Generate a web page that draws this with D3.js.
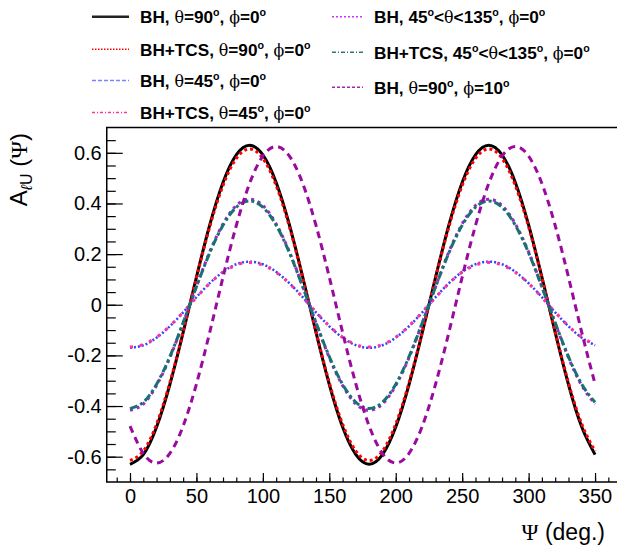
<!DOCTYPE html>
<html>
<head>
<meta charset="utf-8">
<script src="https://cdn.jsdelivr.net/npm/d3@7"></script>
<style>
body { margin: 0; background: #fff; }
text { font-family: "Liberation Sans", Arial, sans-serif; }
</style>
</head>
<body>
<script>
var psi = [0, 10, 20, 30, 40, 50, 60, 70, 80, 90, 100, 110, 120, 130, 140, 150, 160, 170,
  180, 190, 200, 210, 220, 230, 240, 250, 260, 270, 280, 290, 300, 310, 320, 330, 340, 350];

var bhT90 = [-0.63, -0.592, -0.483, -0.315, -0.109, 0.109, 0.315, 0.483, 0.592, 0.63, 0.592, 0.483, 0.315, 0.109, -0.109, -0.315, -0.483, -0.592,
  -0.63, -0.592, -0.483, -0.315, -0.109, 0.109, 0.315, 0.483, 0.592, 0.63, 0.592, 0.483, 0.315, 0.109, -0.109, -0.315, -0.483, -0.592];
var tcsT90 = [-0.615, -0.578, -0.471, -0.308, -0.107, 0.107, 0.308, 0.471, 0.578, 0.615, 0.578, 0.471, 0.308, 0.107, -0.107, -0.308, -0.471, -0.578,
  -0.615, -0.578, -0.471, -0.308, -0.107, 0.107, 0.308, 0.471, 0.578, 0.615, 0.578, 0.471, 0.308, 0.107, -0.107, -0.308, -0.471, -0.578];
var bhT45 = [-0.17, -0.16, -0.13, -0.085, -0.03, 0.03, 0.085, 0.13, 0.16, 0.17, 0.16, 0.13, 0.085, 0.03, -0.03, -0.085, -0.13, -0.16,
  -0.17, -0.16, -0.13, -0.085, -0.03, 0.03, 0.085, 0.13, 0.16, 0.17, 0.16, 0.13, 0.085, 0.03, -0.03, -0.085, -0.13, -0.16];
var tcsT45 = [-0.167, -0.157, -0.128, -0.084, -0.029, 0.029, 0.084, 0.128, 0.157, 0.167, 0.157, 0.128, 0.084, 0.029, -0.029, -0.084, -0.128, -0.157,
  -0.167, -0.157, -0.128, -0.084, -0.029, 0.029, 0.084, 0.128, 0.157, 0.167, 0.157, 0.128, 0.084, 0.029, -0.029, -0.084, -0.128, -0.157];
var bhRange = [-0.417, -0.392, -0.319, -0.209, -0.072, 0.072, 0.209, 0.319, 0.392, 0.417, 0.392, 0.319, 0.209, 0.072, -0.072, -0.209, -0.319, -0.392,
  -0.417, -0.392, -0.319, -0.209, -0.072, 0.072, 0.209, 0.319, 0.392, 0.417, 0.392, 0.319, 0.209, 0.072, -0.072, -0.209, -0.319, -0.392];
var tcsRange = [-0.41, -0.385, -0.314, -0.205, -0.071, 0.071, 0.205, 0.314, 0.385, 0.41, 0.385, 0.314, 0.205, 0.071, -0.071, -0.205, -0.314, -0.385,
  -0.41, -0.385, -0.314, -0.205, -0.071, 0.071, 0.205, 0.314, 0.385, 0.41, 0.385, 0.314, 0.205, 0.071, -0.071, -0.205, -0.314, -0.385];
var bhPhi10 = [-0.479, -0.587, -0.625, -0.587, -0.479, -0.313, -0.109, 0.109, 0.313, 0.479, 0.587, 0.625, 0.587, 0.479, 0.313, 0.109, -0.109, -0.313,
  -0.479, -0.587, -0.625, -0.587, -0.479, -0.313, -0.109, 0.109, 0.313, 0.479, 0.587, 0.625, 0.587, 0.479, 0.313, 0.109, -0.109, -0.313];

var legendLabels = [
  'BH, θ=90°, ϕ=0°',
  'BH+TCS, θ=90°, ϕ=0°',
  'BH, θ=45°, ϕ=0°',
  'BH+TCS, θ=45°, ϕ=0°',
  'BH, 45°<θ<135°, ϕ=0°',
  'BH+TCS, 45°<θ<135°, ϕ=0°',
  'BH, θ=90°, ϕ=10°'
];

var xTicks = [0, 50, 100, 150, 200, 250, 300, 350];
var yTicks = [-0.6, -0.4, -0.2, 0, 0.2, 0.4, 0.6];

var width = 617;
var height = 550;

var styles = [
  { color: '#000000', w: 3, dash: null, lc: '#222222', lw: 2.5, ldash: null },
  { color: '#ff0000', w: 3, dash: '3,3', lc: '#ff0000', lw: 1.5, ldash: '1.5,1.5' },
  { color: '#3344ff', w: 2.5, dash: '2,2', lc: '#8080ff', lw: 1.5, ldash: '4,2' },
  { color: '#ff3399', w: 3, dash: '3,7', lc: '#ff3399', lw: 1.5, ldash: '3,2,1,2' },
  { color: '#a028c8', w: 3, dash: '3,4', lc: '#cc33ff', lw: 1.5, ldash: '2,2' },
  { color: '#177272', w: 3, dash: '8,3,3,3', lc: '#337777', lw: 1.5, ldash: '4,2,1,2' },
  { color: '#9a0a9e', w: 3, dash: '7,5', lc: '#aa22aa', lw: 1.5, ldash: '3,2' }
];
var series = [bhT90, tcsT90, bhT45, tcsT45, bhRange, tcsRange, bhPhi10];

var svg = d3.select('body').append('svg')
  .attr('width', width)
  .attr('height', height);

var x = d3.scaleLinear().domain([-17.5, 367.5]).range([106.75, 618.3]);
var y = d3.scaleLinear().domain([-0.7, 0.7]).range([482, 127.5]);

// curves
var line = d3.line()
  .x(function(d, i) { return x(psi[i]); })
  .y(function(d) { return y(d); })
  .curve(d3.curveNatural);

svg.append('g').selectAll('path').data(series).enter().append('path')
  .attr('d', line)
  .attr('fill', 'none')
  .attr('stroke', function(d, i) { return styles[i].color; })
  .attr('stroke-width', function(d, i) { return styles[i].w; })
  .attr('stroke-dasharray', function(d, i) { return styles[i].dash; });

// axes
var xMinor = svg.append('g').attr('transform', 'translate(0,' + y(-0.7) + ')')
  .call(d3.axisBottom(x).tickValues(d3.range(-10, 361, 10)).tickSize(-4.5).tickFormat(''));
var xAxis = svg.append('g').attr('transform', 'translate(0,' + y(-0.7) + ')')
  .call(d3.axisBottom(x).tickValues(xTicks).tickSize(-9).tickPadding(7));
var yMinor = svg.append('g').attr('transform', 'translate(' + x(-17.5) + ',0)')
  .call(d3.axisLeft(y).tickValues(d3.range(-13, 14).map(function(k) { return k * 0.05; })).tickSize(-9).tickFormat(''));
var yAxis = svg.append('g').attr('transform', 'translate(' + x(-17.5) + ',0)')
  .call(d3.axisLeft(y).tickValues(yTicks).tickSize(-16).tickPadding(5)
    .tickFormat(function(d) { return Math.abs(d) < 1e-9 ? '0' : d.toFixed(1); }));

svg.selectAll('.domain').remove();
svg.selectAll('.tick line').attr('stroke', '#000').attr('stroke-width', 1.2);
svg.selectAll('.tick text').attr('font-size', 20).attr('fill', '#000')
  .style('font-family', '"Liberation Sans", Arial, sans-serif');

// frame
svg.append('path')
  .attr('d', 'M' + x(367.5) + ',' + y(0.7) + 'H' + x(-17.5) + 'V' + y(-0.7) + 'H' + x(367.5))
  .attr('fill', 'none').attr('stroke', '#000').attr('stroke-width', 1.5);

// titles
var greek = /[θϕφΨ]/;
function addRich(sel, label) {
  var parts = label.match(/[θϕφΨ]|°|[^θϕφΨ°]+/g);
  var back = 0;
  parts.forEach(function(p) {
    var t = sel.append('tspan');
    if (p === '°') {
      t.text('o').attr('font-size', '0.62em').attr('dy', -7);
      back = 7;
      return;
    }
    if (back) { t.attr('dy', back); back = 0; }
    t.text(p);
    if (greek.test(p)) t.attr('font-family', '"DejaVu Serif", "Liberation Serif", serif').attr('font-weight', 'normal')
      .attr('font-size', '0.92em');
  });
}

var xTitle = svg.append('text').attr('x', 605).attr('y', 540)
  .attr('text-anchor', 'end').attr('font-size', 23);
xTitle.append('tspan').attr('font-family', '"Liberation Serif", serif').text('Ψ');
xTitle.append('tspan').text(' (deg.)');

var yTitle = svg.append('text').attr('transform', 'translate(27,133) rotate(-90)')
  .attr('text-anchor', 'end').attr('font-size', 24);
yTitle.append('tspan').text('A');
yTitle.append('tspan').attr('font-size', 16).attr('dy', 5).attr('font-style', 'italic').text('ℓ');
yTitle.append('tspan').attr('font-size', 16).text('U');
yTitle.append('tspan').attr('dy', -5).text(' (');
yTitle.append('tspan').attr('font-family', '"Liberation Serif", serif').text('Ψ');
yTitle.append('tspan').text(')');

// legend
var legendRows = [
  { x0: 92, x1: 129, tx: 140, ly: 16.7 },
  { x0: 92, x1: 129, tx: 140, ly: 49.3 },
  { x0: 92, x1: 129, tx: 140, ly: 80.5 },
  { x0: 92, x1: 129, tx: 140, ly: 112.5 },
  { x0: 332, x1: 363, tx: 374, ly: 16.7 },
  { x0: 332, x1: 363, tx: 374, ly: 52.3 },
  { x0: 332, x1: 363, tx: 374, ly: 87.3 }
];

legendLabels.forEach(function(label, i) {
  var r = legendRows[i], s = styles[i];
  svg.append('line')
    .attr('x1', r.x0).attr('x2', r.x1).attr('y1', r.ly).attr('y2', r.ly)
    .attr('stroke', s.lc).attr('stroke-width', s.lw).attr('stroke-dasharray', s.ldash);
  var t = svg.append('text').attr('x', r.tx).attr('y', r.ly + 6.5)
    .attr('font-size', 17.2).attr('font-weight', 'bold').attr('fill', '#000');
  addRich(t, label);
});
</script>
</body>
</html>
